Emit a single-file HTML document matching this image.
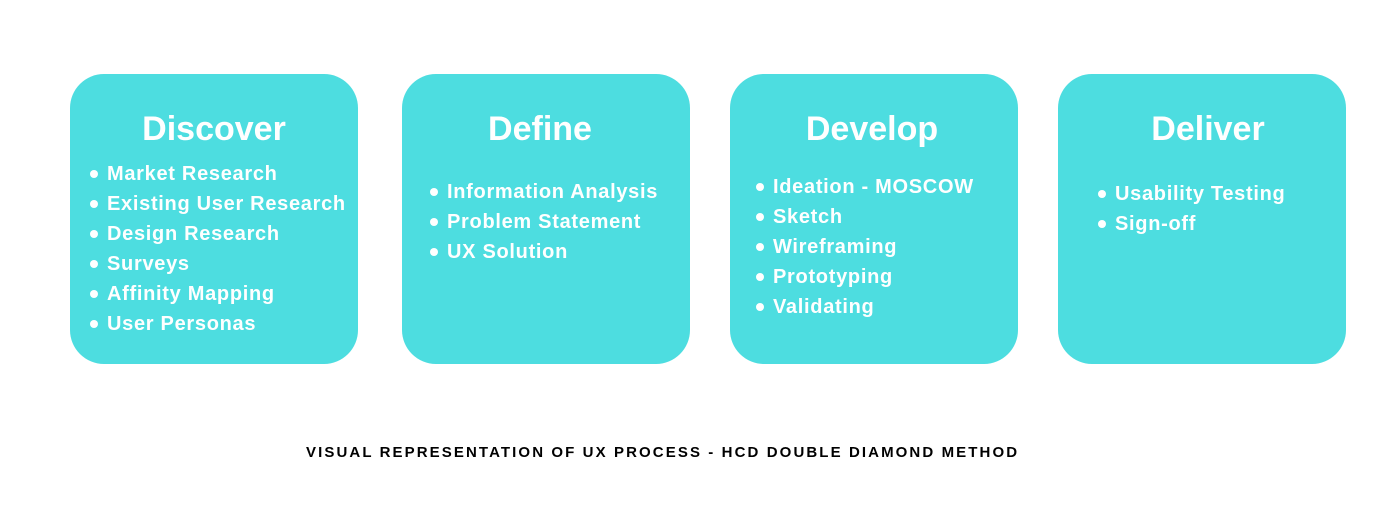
<!DOCTYPE html>
<html><head><style>
body{margin:0;width:1400px;height:525px;background:#fff;position:relative;font-family:"Liberation Sans",sans-serif;overflow:hidden}
.box{position:absolute;top:74px;width:288px;height:290px;background:#4ddde0;border-radius:34px}
.t{position:absolute;top:110px;color:#fff;font-weight:bold;font-size:34px;text-align:center}
.li{position:absolute;color:#fff;font-weight:bold;font-size:20px;letter-spacing:0.7px;white-space:nowrap}
.li:before{content:"";position:absolute;left:-17px;top:7px;width:8px;height:8px;border-radius:50%;background:#fff}
.cap{position:absolute;top:444px;left:306px;width:713px;text-align:center;font-weight:bold;font-size:15px;letter-spacing:2.1px;color:#000;white-space:nowrap}
</style></head><body>
<div class="box" style="left:70px"></div>
<div class="box" style="left:402px"></div>
<div class="box" style="left:730px"></div>
<div class="box" style="left:1058px"></div>
<div class="t" style="left:70px;width:288px">Discover</div>
<div class="t" style="left:402px;width:276px">Define</div>
<div class="t" style="left:730px;width:284px">Develop</div>
<div class="t" style="left:1058px;width:300px">Deliver</div>

<div class="li" style="left:107px;top:163px">Market Research</div>
<div class="li" style="left:107px;top:193px">Existing User Research</div>
<div class="li" style="left:107px;top:223px">Design Research</div>
<div class="li" style="left:107px;top:253px">Surveys</div>
<div class="li" style="left:107px;top:283px">Affinity Mapping</div>
<div class="li" style="left:107px;top:313px">User Personas</div>

<div class="li" style="left:447px;top:181px">Information Analysis</div>
<div class="li" style="left:447px;top:211px">Problem Statement</div>
<div class="li" style="left:447px;top:241px">UX Solution</div>

<div class="li" style="left:773px;top:176px">Ideation - MOSCOW</div>
<div class="li" style="left:773px;top:206px">Sketch</div>
<div class="li" style="left:773px;top:236px">Wireframing</div>
<div class="li" style="left:773px;top:266px">Prototyping</div>
<div class="li" style="left:773px;top:296px">Validating</div>

<div class="li" style="left:1115px;top:183px">Usability Testing</div>
<div class="li" style="left:1115px;top:213px">Sign-off</div>

<div class="cap">VISUAL REPRESENTATION OF UX PROCESS - HCD DOUBLE DIAMOND METHOD</div>
</body></html>
